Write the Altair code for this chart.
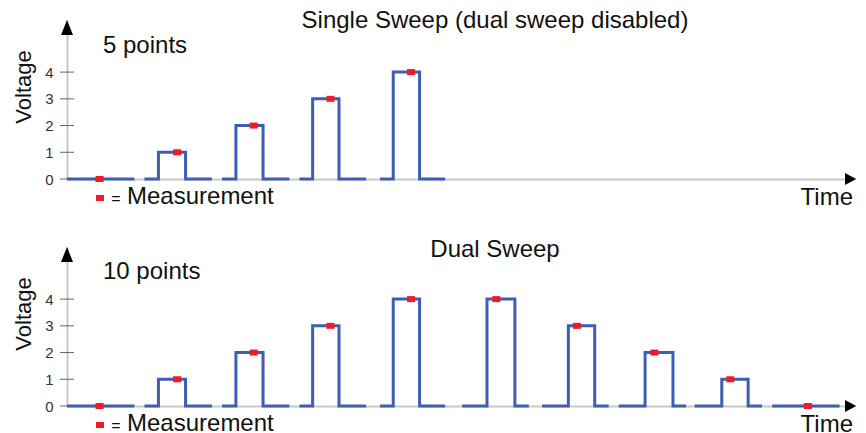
import altair as alt
import pandas as pd

FONT = "Liberation Sans"
BLUE = "#3d5eb2"
RED = "#ee1c24"
GREY = "#c8c8c8"

# ---- data ----
single_levels = [0, 1, 2, 3, 4]
dual_levels = [0, 1, 2, 3, 4, 4, 3, 2, 1, 0]

# timing of each step segment (time units)
seg_start = [0.0, 10.0, 20.0, 30.0, 40.4, 51.0, 61.3, 71.2, 81.0, 91.0]
seg_rise = [0.0, 11.8, 21.8, 31.7, 42.1, 54.2, 64.7, 74.6, 84.5, 0.0]
seg_fall = [0.0, 15.3, 25.3, 35.1, 45.5, 57.8, 68.1, 78.2, 87.9, 0.0]
seg_end = [8.7, 18.7, 28.7, 38.6, 48.8, 59.6, 69.9, 79.9, 89.7, 99.7]
seg_meas = [4.2, 14.2, 24.1, 34.0, 44.4, 55.4, 65.8, 75.8, 85.6, 95.6]

y_ticks = [0, 1, 2, 3, 4]
panel_titles = ["Single Sweep (dual sweep disabled)", "Dual Sweep"]
panel_points = ["5 points", "10 points"]

W, H = 778, 159
X_DOMAIN = [0, 100.4]
Y_DOMAIN = [0, 5.95]


def waveform(levels):
    rows = []
    for i, v in enumerate(levels):
        if v == 0:
            pts = [(seg_start[i], 0), (seg_end[i], 0)]
        else:
            pts = [(seg_start[i], 0), (seg_rise[i], 0), (seg_rise[i], v),
                   (seg_fall[i], v), (seg_fall[i], 0), (seg_end[i], 0)]
        for j, (t, y) in enumerate(pts):
            rows.append({"seg": i, "k": j, "t": t, "v": y})
    return pd.DataFrame(rows)


def measurements(levels):
    return pd.DataFrame({"t": seg_meas[:len(levels)], "v": levels})


x_enc = alt.X("t:Q", scale=alt.Scale(domain=X_DOMAIN, nice=False, zero=False),
              axis=alt.Axis(labels=False, ticks=False, grid=False, title=None,
                            domainColor=GREY, domainWidth=2))
y_axis = alt.Axis(values=y_ticks, ticks=False, grid=False, title=None,
                  domainColor=GREY, domainWidth=2, labelFontSize=15,
                  labelColor="#333333", labelPadding=14, labelFont=FONT)


def y_enc():
    return alt.Y("v:Q", scale=alt.Scale(domain=Y_DOMAIN, nice=False), axis=y_axis)


one = pd.DataFrame({"a": [0]})


def text(s, x, y, size=24, align="left", angle=0, baseline="alphabetic"):
    return alt.Chart(pd.DataFrame({"s": [s]})).mark_text(
        font=FONT, fontSize=size, align=align, baseline=baseline, angle=angle,
        color="#111111"
    ).encode(x=alt.value(x), y=alt.value(y), text="s:N")


def panel(levels, title, points, title_y, points_y):
    line = alt.Chart(waveform(levels)).mark_line(
        color=BLUE, strokeWidth=3, strokeCap="butt", strokeJoin="miter"
    ).encode(x=x_enc, y=y_enc(), detail="seg:N", order="k:Q")
    ticks = alt.Chart(pd.DataFrame({"v": y_ticks})).mark_rule(
        color="#666666", strokeWidth=1
    ).encode(y=y_enc(), x=alt.value(-7), x2=alt.value(7))
    meas = alt.Chart(measurements(levels)).mark_point(
        shape="M-1,-0.75L1,-0.75L1,0.75L-1,0.75Z", size=64, filled=True,
        color=RED, opacity=1
    ).encode(x=x_enc, y=y_enc())
    up = alt.Chart(one).mark_point(
        shape="M0,-1L-0.8,1L0.8,1Z", size=225, filled=True, color="black", opacity=1
    ).encode(x=alt.value(0), y=alt.value(7.5))
    right = alt.Chart(one).mark_point(
        shape="M1.5,0L0,-0.8L0,0.8Z", size=225, filled=True, color="black", opacity=1
    ).encode(x=alt.value(W), y=alt.value(H))
    key = alt.Chart(one).mark_point(
        shape="M-1,-0.75L1,-0.75L1,0.75L-1,0.75Z", size=64, filled=True,
        color=RED, opacity=1
    ).encode(x=alt.value(33), y=alt.value(H + 19))
    return alt.layer(
        ticks, line, meas, up, right, key,
        text(title, 428, title_y, size=24, align="center"),
        text(points, 36, points_y, size=24),
        text("Voltage", -43, 67, size=22, align="center", angle=270, baseline="middle"),
        text("=", 49, H + 25, size=16, align="center"),
        text("Measurement", 60, H + 25, size=24),
        text("Time", 786, H + 26, size=24, align="right"),
    ).properties(width=W, height=H)


top = panel(single_levels, panel_titles[0], panel_points[0], 8, 33)
bottom = panel(dual_levels, panel_titles[1], panel_points[1], 10, 32)

chart = alt.vconcat(top, bottom, spacing=68, bounds="flush").properties(
    padding={"left": 5, "top": 1, "right": 0, "bottom": 0}
).configure_view(stroke=None)

chart.save("out.html", embed_options={"renderer": "svg", "actions": False})
